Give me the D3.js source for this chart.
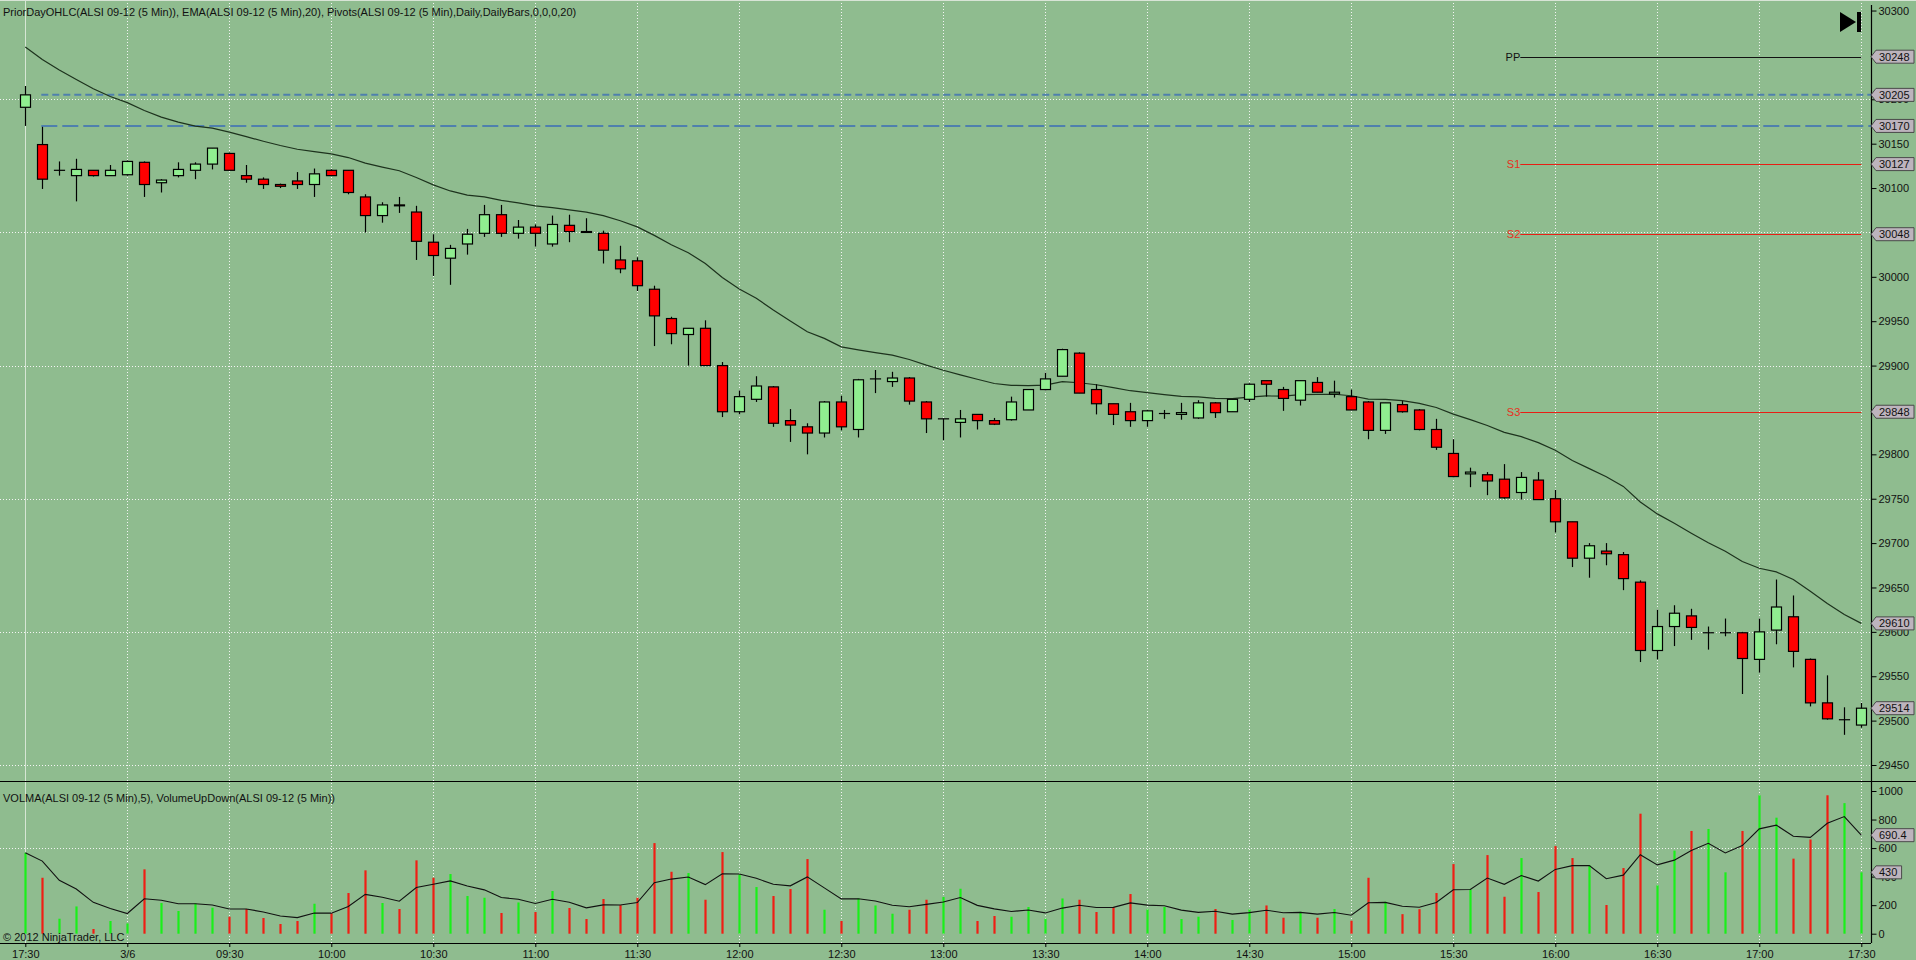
<!DOCTYPE html>
<html>
<head>
<meta charset="utf-8">
<script src="https://cdn.jsdelivr.net/npm/d3@7"></script>
<style>
  body { margin: 0; background: #8FBC8F; overflow: hidden; }
  text { font-family: "Liberation Sans", Arial, sans-serif; }
</style>
</head>
<body>
<div id="container"></div>
<script>
// 5 min bars, ALSI 09-12 : first bar is 17:30 of the prior day, then 08:35 .. 17:30 on 3/6
const opens  = [30191,30149,30120,30114,30120,30114,30115,30129,30106,30114,30120,30127,30139,30114,30110,30104,30108,30104,30120,30120,
                30090,30069,30081,30073,30039,30021,30037,30049,30070,30049,30056,30037,30058,30051,30049,30019,30018,29986,29953,29935,
                29942,29900,29848,29862,29876,29838,29831,29824,29859,29828,29885,29882,29886,29859,29840,29836,29845,29838,29839,29850,
                29873,29888,29914,29873,29857,29848,29838,29846,29845,29841,29858,29848,29862,29883,29873,29861,29881,29868,29865,29859,
                29827,29856,29850,29828,29801,29778,29777,29772,29757,29771,29750,29724,29683,29691,29687,29656,29579,29606,29618,29599,
                29599,29599,29569,29602,29617,29569,29520,29501,29495];
const highs  = [30215,30169,30130,30133,30120,30126,30131,30130,30110,30129,30129,30145,30140,30126,30112,30105,30118,30122,30121,30120,
                30093,30084,30090,30080,30048,30036,30054,30081,30081,30064,30059,30069,30070,30066,30052,30035,30022,29990,29955,29942,
                29951,29904,29872,29888,29877,29851,29835,29860,29866,29885,29895,29893,29887,29860,29840,29850,29845,29841,29865,29873,
                29892,29919,29915,29879,29857,29858,29850,29850,29858,29861,29859,29862,29880,29883,29876,29883,29887,29883,29873,29860,
                29858,29860,29851,29840,29817,29785,29780,29789,29780,29780,29760,29724,29700,29700,29690,29658,29625,29630,29626,29606,
                29615,29600,29615,29659,29641,29570,29551,29515,29520];
const lows   = [30170,30099,30114,30085,30113,30114,30114,30090,30095,30112,30110,30121,30120,30106,30099,30100,30099,30090,30114,30093,
                30050,30061,30072,30019,30001,29991,30025,30045,30045,30043,30034,30034,30039,30050,30015,30004,29984,29922,29924,29900,
                29900,29842,29845,29859,29831,29814,29800,29819,29827,29819,29869,29876,29856,29824,29816,29819,29828,29833,29838,29850,
                29872,29888,29869,29845,29833,29831,29831,29840,29839,29840,29841,29848,29859,29865,29849,29855,29870,29864,29850,29817,
                29823,29847,29827,29805,29774,29763,29754,29750,29749,29749,29712,29673,29661,29675,29647,29566,29569,29584,29591,29580,
                29595,29530,29554,29586,29560,29516,29501,29484,29492];
const closes = [30205,30110,30120,30121,30114,30120,30130,30104,30109,30121,30127,30145,30120,30110,30104,30102,30104,30116,30114,30095,
                30069,30081,30080,30040,30024,30032,30048,30070,30049,30056,30049,30059,30051,30050,30030,30009,29990,29956,29936,29942,
                29900,29848,29865,29877,29835,29833,29824,29859,29831,29884,29885,29886,29860,29840,29840,29840,29838,29834,29859,29873,
                29885,29918,29869,29857,29845,29838,29849,29846,29847,29858,29847,29862,29879,29879,29863,29883,29870,29870,29850,29827,
                29858,29848,29828,29808,29775,29780,29770,29751,29774,29749,29724,29683,29697,29688,29660,29579,29606,29621,29605,29599,
                29599,29570,29600,29628,29578,29520,29502,29501,29514];
const volumes = [567,392,105,191,33,89,72,451,215,159,212,182,119,173,110,68,89,210,142,285,
                 444,215,173,514,392,418,264,252,145,219,152,299,180,103,243,200,252,635,434,425,
                 238,572,416,327,264,313,523,168,89,247,198,140,168,238,257,315,89,124,119,187,
                 105,247,238,152,187,278,170,187,103,119,173,96,170,198,112,154,112,173,91,392,
                 224,137,172,285,488,311,551,259,530,292,614,530,479,201,460,841,339,582,720,734,
                 430,720,970,813,526,660,970,915,430];

const timeLabels = ["17:30","3/6","09:30","10:00","10:30","11:00","11:30","12:00","12:30","13:00",
                    "13:30","14:00","14:30","15:00","15:30","16:00","16:30","17:00","17:30"];
const timeTickBars = [0,6,12,18,24,30,36,42,48,54,60,66,72,78,84,90,96,102,108];
const priceTicks = [29450,29500,29550,29600,29650,29700,29750,29800,29850,29900,29950,
                    30000,30050,30100,30150,30200,30250,30300];
const priceGrid = [29450,29600,29750,29900,30050,30200];
const volumeTicks = [0,200,400,600,800,1000];
const volumeGrid = [600];

const pivotNames = ["PP","S1","S2","S3"];
const pivotValues = [30248,30127,30048,29848];
const priorDayValues = [30205,30170];

const emaStart = 30259;   // EMA value read at the first bar (seeded from older data)
const emaPeriod = 20;
const volmaPeriod = 5;

const W = 1916, H = 960;
const axisX = 1871;

let svg = d3.select("#container")
  .append("svg")
  .attr("width", W)
  .attr("height", H)
  .style("display", "block");

svg.append("rect")
  .attr("width", W).attr("height", H)
  .attr("fill", "#8FBC8F");

let x = d3.scaleLinear().domain([0, 108]).range([25.3, 1861.3]);
let yPrice = d3.scaleLinear().domain([29450, 30200]).range([765, 99.3]);
let yVol = d3.scaleLinear().domain([0, 1000]).range([933.7, 791]);

// indicators
let ema = [];
closes.forEach(function(c, i){
  let k = 2 / (emaPeriod + 1);
  ema.push(i == 0 ? emaStart : c * k + (1 - k) * ema[i - 1]);
});
let volma = [];
volumes.forEach(function(v, i){
  let k = 2 / (volmaPeriod + 1);
  volma.push(i == 0 ? v : v * k + (1 - k) * volma[i - 1]);
});

// grid
let grid = svg.append("g").attr("class", "grid");
grid.selectAll(".vgrid").data(timeTickBars).enter()
  .append("line")
  .attr("class", "vgrid")
  .attr("x1", d => Math.round(x(d)) + 0.5)
  .attr("x2", d => Math.round(x(d)) + 0.5)
  .attr("y1", 0)
  .attr("y2", 943)
  .attr("stroke", (d, i) => i == 0 ? "#d6e6d4" : "#f4f4f4")
  .attr("stroke-width", 1)
  .attr("stroke-dasharray", (d, i) => i == 0 ? null : "1,2");
grid.selectAll(".pgrid").data(priceGrid).enter()
  .append("line")
  .attr("class", "pgrid")
  .attr("x1", 0).attr("x2", axisX)
  .attr("y1", d => Math.round(yPrice(d)) + 0.5)
  .attr("y2", d => Math.round(yPrice(d)) + 0.5)
  .attr("stroke", "#f4f4f4")
  .attr("stroke-dasharray", "1,2");
grid.selectAll(".volgrid").data(volumeGrid).enter()
  .append("line")
  .attr("class", "volgrid")
  .attr("x1", 0).attr("x2", axisX)
  .attr("y1", d => Math.round(yVol(d)) + 0.5)
  .attr("y2", d => Math.round(yVol(d)) + 0.5)
  .attr("stroke", "#f4f4f4")
  .attr("stroke-dasharray", "1,2");

// prior day OHLC lines
let dashes = ["7,4", "16,5"];
svg.selectAll(".prior").data(priorDayValues).enter()
  .append("line")
  .attr("class", "prior")
  .attr("x1", x(1) - 1)
  .attr("x2", axisX)
  .attr("y1", d => yPrice(d))
  .attr("y2", d => yPrice(d))
  .attr("stroke", "#4f80ad")
  .attr("stroke-width", 2)
  .attr("stroke-dasharray", (d, i) => dashes[i]);

// pivots
let pivots = svg.selectAll(".pivot").data(pivotValues).enter()
  .append("g").attr("class", "pivot");
pivots.append("line")
  .attr("x1", x(88) - 1)
  .attr("x2", x(108))
  .attr("y1", d => Math.round(yPrice(d)) + 0.5)
  .attr("y2", d => Math.round(yPrice(d)) + 0.5)
  .attr("stroke", (d, i) => i == 0 ? "#111" : "#e81e14")
  .attr("stroke-width", 1);
pivots.append("text")
  .text((d, i) => pivotNames[i])
  .attr("x", x(88) - 1)
  .attr("y", d => yPrice(d) + 4)
  .attr("text-anchor", "end")
  .attr("font-size", 11)
  .attr("fill", (d, i) => i == 0 ? "#111" : "#e8301e");

// EMA
svg.append("path")
  .datum(ema)
  .attr("d", d3.line().x((d, i) => x(i)).y(d => yPrice(d)))
  .attr("fill", "none")
  .attr("stroke", "#1d321d")
  .attr("stroke-width", 1.2);

// candles
let bars = d3.range(closes.length);
let candles = svg.selectAll(".candle").data(bars).enter()
  .append("g").attr("class", "candle");
candles.append("line")
  .attr("x1", i => Math.round(x(i)) + 0.5)
  .attr("x2", i => Math.round(x(i)) + 0.5)
  .attr("y1", i => yPrice(highs[i]))
  .attr("y2", i => yPrice(lows[i]))
  .attr("stroke", "#000")
  .attr("stroke-width", 1.2);
candles.append("rect")
  .attr("x", i => Math.round(x(i)) - 4.5)
  .attr("y", i => yPrice(Math.max(opens[i], closes[i])))
  .attr("width", 10)
  .attr("height", i => Math.max(0.01, Math.abs(yPrice(opens[i]) - yPrice(closes[i]))))
  .attr("fill", i => closes[i] >= opens[i] ? "#90EE90" : "#FF0000")
  .attr("stroke", "#000")
  .attr("stroke-width", 1.2);

// volume
svg.selectAll(".vol").data(bars).enter()
  .append("line")
  .attr("class", "vol")
  .attr("x1", i => Math.round(x(i)) + 0.5)
  .attr("x2", i => Math.round(x(i)) + 0.5)
  .attr("y1", yVol(0))
  .attr("y2", i => yVol(volumes[i]))
  .attr("stroke", i => closes[i] >= opens[i] ? "#19f019" : "#f01e14")
  .attr("stroke-width", 2.2);
svg.append("path")
  .datum(volma)
  .attr("d", d3.line().x((d, i) => x(i)).y(d => yVol(d)))
  .attr("fill", "none")
  .attr("stroke", "#111")
  .attr("stroke-width", 1.1);

// panel frame
svg.append("line")
  .attr("x1", 0).attr("x2", W)
  .attr("y1", 781.5).attr("y2", 781.5)
  .attr("stroke", "#000").attr("stroke-width", 1.2);
svg.append("line")
  .attr("x1", 0).attr("x2", axisX)
  .attr("y1", 943.5).attr("y2", 943.5)
  .attr("stroke", "#000").attr("stroke-width", 1.2);
svg.append("line")
  .attr("x1", 0).attr("x2", W)
  .attr("y1", 0.5).attr("y2", 0.5)
  .attr("stroke", "#d8e4d6");

// axes
let priceAxis = svg.append("g")
  .attr("transform", "translate(" + (axisX + 0.5) + ",0)")
  .call(d3.axisRight(yPrice).tickValues(priceTicks).tickSize(5).tickPadding(2).tickFormat(d3.format("d")));
let volAxis = svg.append("g")
  .attr("transform", "translate(" + (axisX + 0.5) + ",0)")
  .call(d3.axisRight(yVol).tickValues(volumeTicks).tickSize(5).tickPadding(2).tickFormat(d3.format("d")));
[priceAxis, volAxis].forEach(function(a){
  a.select(".domain").remove();
  a.selectAll("line").attr("stroke", "#000");
  a.selectAll("text")
    .attr("font-size", 11)
    .attr("font-family", "Liberation Sans, Arial, sans-serif")
    .attr("fill", "#111");
});
svg.append("line")
  .attr("x1", axisX + 0.5).attr("x2", axisX + 0.5)
  .attr("y1", 5).attr("y2", 943)
  .attr("stroke", "#000").attr("stroke-width", 1.2);

let timeAxis = svg.append("g")
  .attr("transform", "translate(0,943)")
  .call(d3.axisBottom(x).tickValues(timeTickBars).tickSize(4).tickPadding(3)
    .tickFormat((d, i) => timeLabels[i]));
timeAxis.select(".domain").remove();
timeAxis.selectAll("line").attr("stroke", "#000");
timeAxis.selectAll("text")
  .attr("font-size", 11)
  .attr("font-family", "Liberation Sans, Arial, sans-serif")
  .attr("fill", "#111");

// value tags on the right axis
function tag(value, yPos, label){
  let g = svg.append("g").attr("class", "tag");
  let w = label.length * 6.2 + 6;
  g.append("polygon")
    .attr("points", [
      [axisX, yPos], [axisX + 5, yPos - 6.5], [axisX + 6 + w, yPos - 6.5],
      [axisX + 6 + w, yPos + 6.5], [axisX + 5, yPos + 6.5]
    ].map(p => p.join(",")).join(" "))
    .attr("fill", "#bdb4bd")
    .attr("stroke", "#4a4a4a")
    .attr("stroke-width", 1);
  g.append("text")
    .text(label)
    .attr("x", axisX + 8)
    .attr("y", yPos + 4)
    .attr("font-size", 11)
    .attr("fill", "#111");
}
pivotValues.forEach(v => tag(v, yPrice(v), String(v)));
priorDayValues.forEach(v => tag(v, yPrice(v), String(v)));
tag(ema[ema.length - 1], yPrice(ema[ema.length - 1]), d3.format("d")(ema[ema.length - 1]));
tag(closes[closes.length - 1], yPrice(closes[closes.length - 1]), String(closes[closes.length - 1]));
tag(volma[volma.length - 1], yVol(volma[volma.length - 1]), d3.format(".1f")(volma[volma.length - 1]));
tag(volumes[volumes.length - 1], yVol(volumes[volumes.length - 1]), String(volumes[volumes.length - 1]));

// titles
svg.append("text")
  .text("PriorDayOHLC(ALSI 09-12 (5 Min)), EMA(ALSI 09-12 (5 Min),20), Pivots(ALSI 09-12 (5 Min),Daily,DailyBars,0,0,0,20)")
  .attr("x", 3).attr("y", 16)
  .attr("font-size", 11)
  .attr("fill", "#111");
svg.append("text")
  .text("VOLMA(ALSI 09-12 (5 Min),5), VolumeUpDown(ALSI 09-12 (5 Min))")
  .attr("x", 3).attr("y", 802)
  .attr("font-size", 11)
  .attr("fill", "#111");
svg.append("text")
  .text("\u00A9 2012 NinjaTrader, LLC")
  .attr("x", 3).attr("y", 941)
  .attr("font-size", 11)
  .attr("fill", "#111");

// "go to last bar" button
svg.append("polygon")
  .attr("points", "1840,12 1840,32 1856,22")
  .attr("fill", "#000");
svg.append("rect")
  .attr("x", 1857).attr("y", 12)
  .attr("width", 4).attr("height", 20)
  .attr("fill", "#000");
</script>
</body>
</html>
